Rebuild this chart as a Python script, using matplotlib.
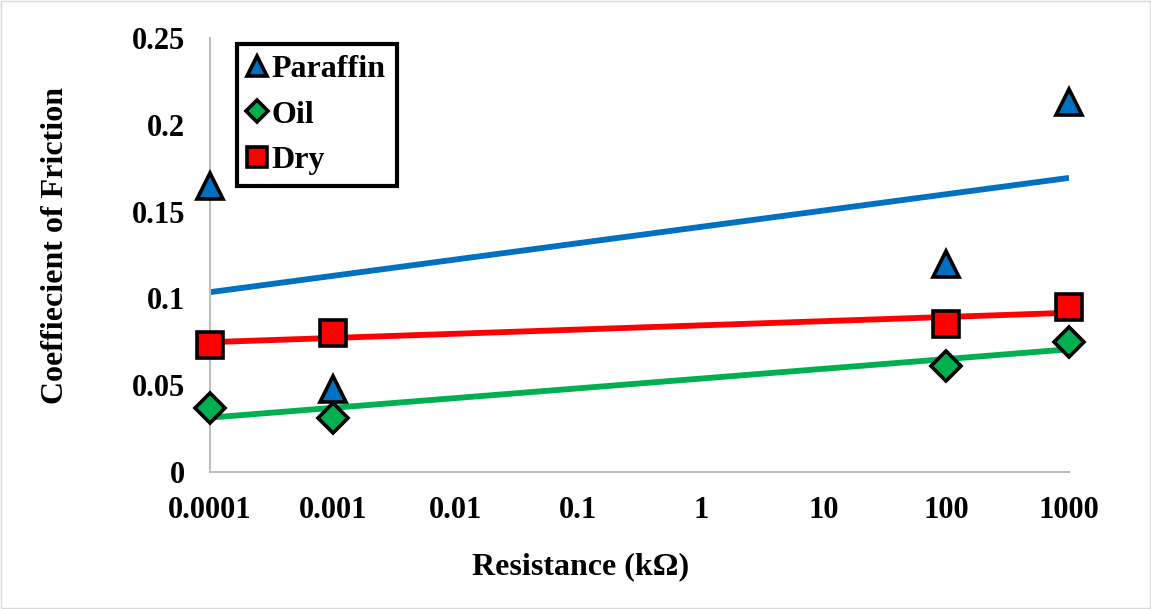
import numpy as np
import matplotlib.pyplot as plt
from matplotlib.patches import Rectangle

plt.rcParams['font.family'] = ['Liberation Serif', 'DejaVu Serif']
plt.rcParams['font.weight'] = 'bold'

# data
resistance = [0.0001, 0.001, 100, 1000]
paraffin = [0.165, 0.048, 0.120, 0.213]
oil = [0.037, 0.031, 0.061, 0.075]
dry = [0.073, 0.080, 0.085, 0.095]
x_ticks = [0.0001, 0.001, 0.01, 0.1, 1, 10, 100, 1000]
x_tick_labels = ['0.0001', '0.001', '0.01', '0.1', '1', '10', '100', '1000']
y_ticks = [0, 0.05, 0.1, 0.15, 0.2, 0.25]
y_tick_labels = ['0', '0.05', '0.1', '0.15', '0.2', '0.25']

fig = plt.figure(figsize=(11.51, 6.09), dpi=100)
ax = fig.add_axes([0.1825, 0.225, 0.7463, 0.7126])

series = [
    ('Paraffin', paraffin, '#0070C0', '^'),
    ('Oil', oil, '#00B050', 'D'),
    ('Dry', dry, '#FF0000', 's'),
]
lx = np.log10(resistance)
xs = np.array([min(resistance), max(resistance)])
for name, vals, col, mk in series:
    # logarithmic trendline
    k, b = np.polyfit(lx, vals, 1)
    ax.plot(xs, k * np.log10(xs) + b, color=col, lw=4.2, zorder=2,
            solid_capstyle='butt')
for name, vals, col, mk in series:
    ms = 19 if mk != 'D' else 15
    ax.plot(resistance, vals, linestyle='none', marker=mk, ms=ms,
            mfc=col, mec='black', mew=2.6, label=name, zorder=3,
            clip_on=False)

ax.set_xscale('log')
ax.set_xlim(0.0001, 1000)
ax.set_ylim(0, 0.25)
ax.set_xticks(x_ticks)
ax.set_xticklabels(x_tick_labels)
ax.set_yticks(y_ticks)
ax.set_yticklabels(y_tick_labels)
ax.minorticks_off()
ax.tick_params(length=0, labelsize=22)
ax.tick_params(axis='x', pad=17)
ax.tick_params(axis='y', pad=18)
for lab in ax.get_xticklabels() + ax.get_yticklabels():
    lab.set_fontweight('bold')

for s in ['top', 'right']:
    ax.spines[s].set_visible(False)
for s in ['left', 'bottom']:
    ax.spines[s].set_color('#BFBFBF')
    ax.spines[s].set_linewidth(1.5)

ax.set_xlabel('Resistance (kΩ)', fontsize=23, fontweight='bold')
ax.xaxis.set_label_coords(0.431, -0.186)
ax.set_ylabel('Coeffiecient of Friction', fontsize=23, fontweight='bold')
ax.yaxis.set_label_coords(-0.180, 0.521)
ax.yaxis.label.set_va('center')

leg = ax.legend(loc='upper left', bbox_to_anchor=(0.031, 0.987),
                fancybox=False, framealpha=1, edgecolor='black',
                prop={'size': 23, 'weight': 'bold'}, markerscale=0.75,
                handlelength=0.6, handletextpad=0.15, borderpad=0.35,
                labelspacing=0.5, borderaxespad=0)
leg.get_frame().set_linewidth(3)

fig.patches.append(Rectangle((0.001, 0.001), 0.998, 0.997,
                             transform=fig.transFigure, fill=False,
                             edgecolor='#D9D9D9', lw=1))

fig.savefig('out.png', dpi=100)
